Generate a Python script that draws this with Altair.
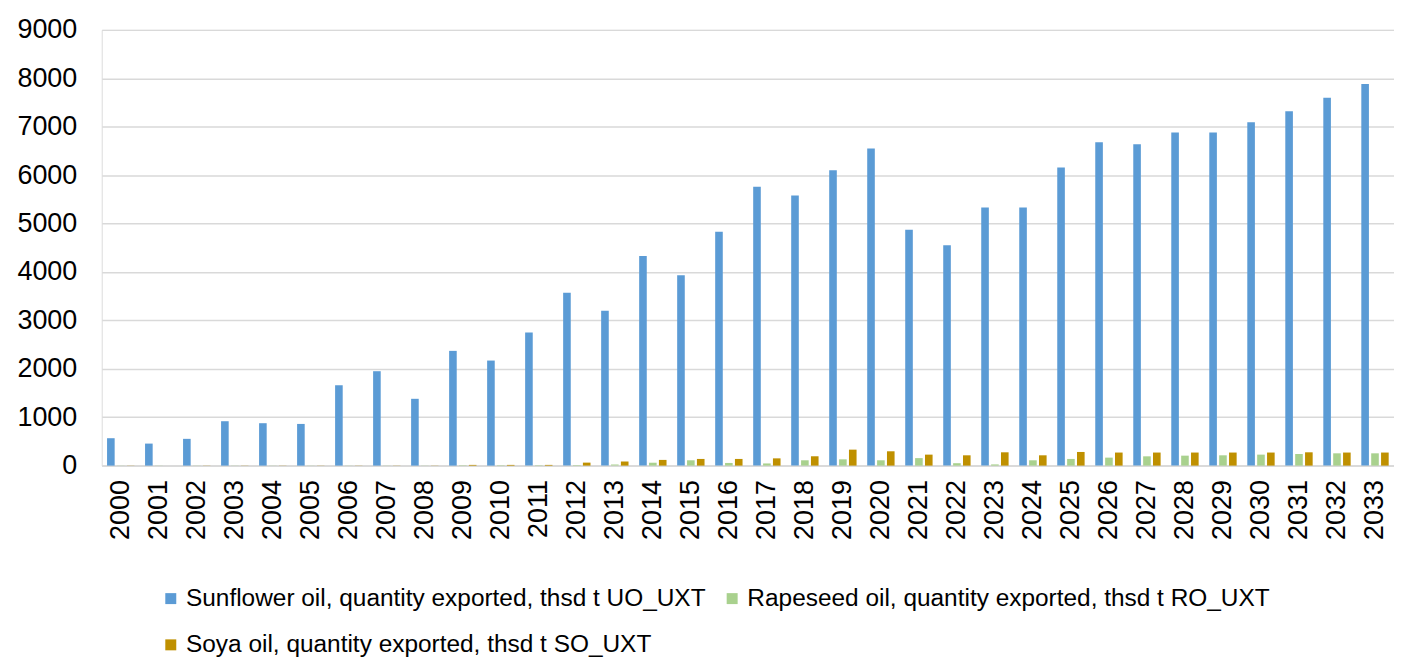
import altair as alt
import pandas as pd

years = [str(y) for y in range(2000, 2034)]
series = [
    "Sunflower oil, quantity exported, thsd t UO_UXT",
    "Rapeseed oil, quantity exported, thsd t RO_UXT",
    "Soya oil, quantity exported, thsd t SO_UXT",
]
colors = ["#5B9BD5", "#A9D18E", "#BF9000"]

sunflower = [566, 455, 553, 917, 876, 861, 1660, 1950, 1380, 2370, 2170, 2750,
             3570, 3200, 4330, 3930, 4830, 5760, 5580, 6100, 6550, 4870, 4550,
             5330, 5330, 6160, 6680, 6640, 6880, 6880, 7090, 7320, 7600, 7880]
rapeseed = [3, 3, 3, 3, 3, 3, 3, 3, 3, 8, 8, 8,
            10, 25, 60, 110, 55, 45, 110, 130, 110, 155, 50,
            25, 110, 138, 165, 192, 206, 213, 227, 240, 254, 254]
soya = [3, 3, 3, 3, 3, 3, 3, 3, 3, 15, 15, 15,
        62, 85, 118, 138, 138, 150, 193, 330, 296, 227, 213,
        275, 213, 282, 270, 270, 270, 270, 270, 275, 270, 270]

rows = []
for name, vals in zip(series, [sunflower, rapeseed, soya]):
    for y, v in zip(years, vals):
        rows.append({"year": y, "series": name, "value": v})
df = pd.DataFrame(rows)

# legend grid fills column by column: order so that row 1 = Sunflower, Rapeseed; row 2 = Soya
legend_order = [series[0], series[2], series[1]]
legend_colors = [colors[0], colors[2], colors[1]]

FONT = "Liberation Sans"

chart = alt.Chart(df).mark_bar().encode(
    x=alt.X("year:N", sort=years, title=None,
            scale=alt.Scale(paddingInner=0.28, paddingOuter=0.14),
            axis=alt.Axis(labelAngle=-90, labelFontSize=27, labelPadding=14,
                          ticks=False, domainColor="#d9d9d9", domainWidth=1.5,
                          labelColor="#000000", labelFont=FONT)),
    xOffset=alt.XOffset("series:N", sort=series,
                        scale=alt.Scale(domain=series, paddingInner=0.23)),
    y=alt.Y("value:Q", title=None,
            scale=alt.Scale(domain=[0, 9000], nice=False),
            axis=alt.Axis(values=list(range(0, 9001, 1000)), format="d",
                          labelFontSize=27, labelPadding=25, ticks=False,
                          domain=False, gridColor="#d9d9d9", gridWidth=1.5,
                          labelColor="#000000", labelFont=FONT)),
    color=alt.Color("series:N",
                    scale=alt.Scale(domain=legend_order, range=legend_colors),
                    legend=alt.Legend(title=None, orient="none", legendX=57,
                                      legendY=558, columns=2, symbolType="square",
                                      symbolSize=121, symbolStrokeWidth=0,
                                      labelFontSize=24.5, labelFont=FONT,
                                      labelColor="#000000", labelLimit=1000,
                                      labelOffset=3, columnPadding=13,
                                      rowPadding=21.5, padding=0)),
).properties(
    width=1296, height=437,
    autosize=alt.AutoSizeParams(type="none"),
    padding={"left": 94, "top": 21, "right": 0, "bottom": 193},
).configure_view(stroke=None).configure(background="white")

chart.save("out.html", embed_options={"renderer": "svg", "actions": False})
